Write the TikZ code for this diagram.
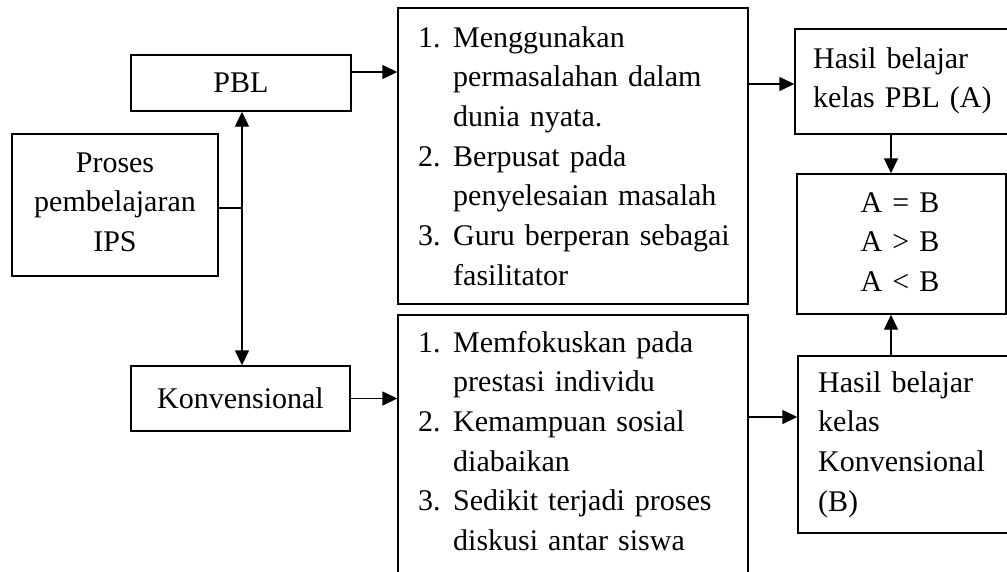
\documentclass[tikz,border=0pt]{standalone}
\usepackage{fontspec}
\setmainfont{Liberation Serif}
\usetikzlibrary{arrows.meta}
\begin{document}
\begin{tikzpicture}[x=1pt,y=-1pt,
  box/.style={draw,line width=1.4pt,rectangle,inner sep=0pt},
  txt/.style={font=\fontsize{30}{39.7}\selectfont,inner sep=0pt},
  lst/.style={txt,align=left,text width=330pt,anchor=base west},
  arr/.style={line width=1.4pt,-{Triangle[length=15pt,width=14pt]}},
  ln/.style={line width=1.4pt}]
\useasboundingbox (0,0) rectangle (1007,571);
\clip (0,0) rectangle (1007,571);

% left column
\node[box,txt,minimum width=220pt,minimum height=56pt] (pbl) at (241,83) {PBL};
\node[box,minimum width=206pt,minimum height=142pt] (proses) at (115,205) {};
\node[txt,align=center,text width=200pt,anchor=base] (prosesT) at (115,172)
  {Proses\\pembelajaran\\IPS};
\node[box,txt,minimum width=219pt,minimum height=65pt] (konv) at (240.5,398.5) {Konvensional};

% middle column
\node[box,minimum width=350pt,minimum height=296pt] (mid1) at (573,156) {};
\node[lst] (mid1T) at (418,47)
  {\makebox[35pt][l]{1.}Menggunakan\\
   \hspace*{35pt}permasalahan dalam\\
   \hspace*{35pt}dunia nyata.\\
   \makebox[35pt][l]{2.}Berpusat pada\\
   \hspace*{35pt}penyelesaian masalah\\
   \makebox[35pt][l]{3.}Guru berperan sebagai\\
   \hspace*{35pt}fasilitator};
\node[box,minimum width=350pt,minimum height=275pt] (mid2) at (573,452.5) {};
\node[lst] (mid2T) at (418,352)
  {\makebox[35pt][l]{1.}Memfokuskan pada\\
   \hspace*{35pt}prestasi individu\\
   \makebox[35pt][l]{2.}Kemampuan sosial\\
   \hspace*{35pt}diabaikan\\
   \makebox[35pt][l]{3.}Sedikit terjadi proses\\
   \hspace*{35pt}diskusi antar siswa};

% right column
\node[box,minimum width=235pt,minimum height=105pt] (hasA) at (912.5,81.5) {};
\node[lst,text width=200pt] (hasAT) at (813,68) {Hasil belajar\\kelas PBL (A)};
\node[box,minimum width=209pt,minimum height=140pt] (ab) at (901.5,244) {};
\node[txt,align=center,text width=200pt,anchor=base] (abT) at (900,212)
  {A = B\\A > B\\A < B};
\node[box,minimum width=232pt,minimum height=177pt] (hasB) at (914,444.5) {};
\node[lst,text width=200pt] (hasBT) at (818,392)
  {Hasil belajar\\kelas\\Konvensional\\(B)};

% connectors
\coordinate (j) at (242,208);
\draw[ln] (proses.east |- j) -- (j);
\draw[arr] (j) -- (j |- pbl.south);
\draw[arr] (j) -- (j |- konv.north);
\draw[arr] ([yshift=11pt]pbl.east) -- ([yshift=11pt]pbl.east -| mid1.west);
\draw[arr] (konv.east) -- (konv.east -| mid2.west);
\draw[arr] ([yshift=-2.5pt]mid1.east |- hasA.west) -- ([yshift=-2.5pt]hasA.west);
\draw[arr] ([xshift=-10.5pt]ab.north |- hasA.south) -- ([xshift=-10.5pt]ab.north);
\draw[arr] ([xshift=-10.5pt]ab.south |- hasB.north) -- ([xshift=-10.5pt]ab.south);
\draw[arr] ([yshift=27.5pt]mid2.east |- hasB.west) -- ([yshift=27.5pt]hasB.west);
\end{tikzpicture}
\end{document}
